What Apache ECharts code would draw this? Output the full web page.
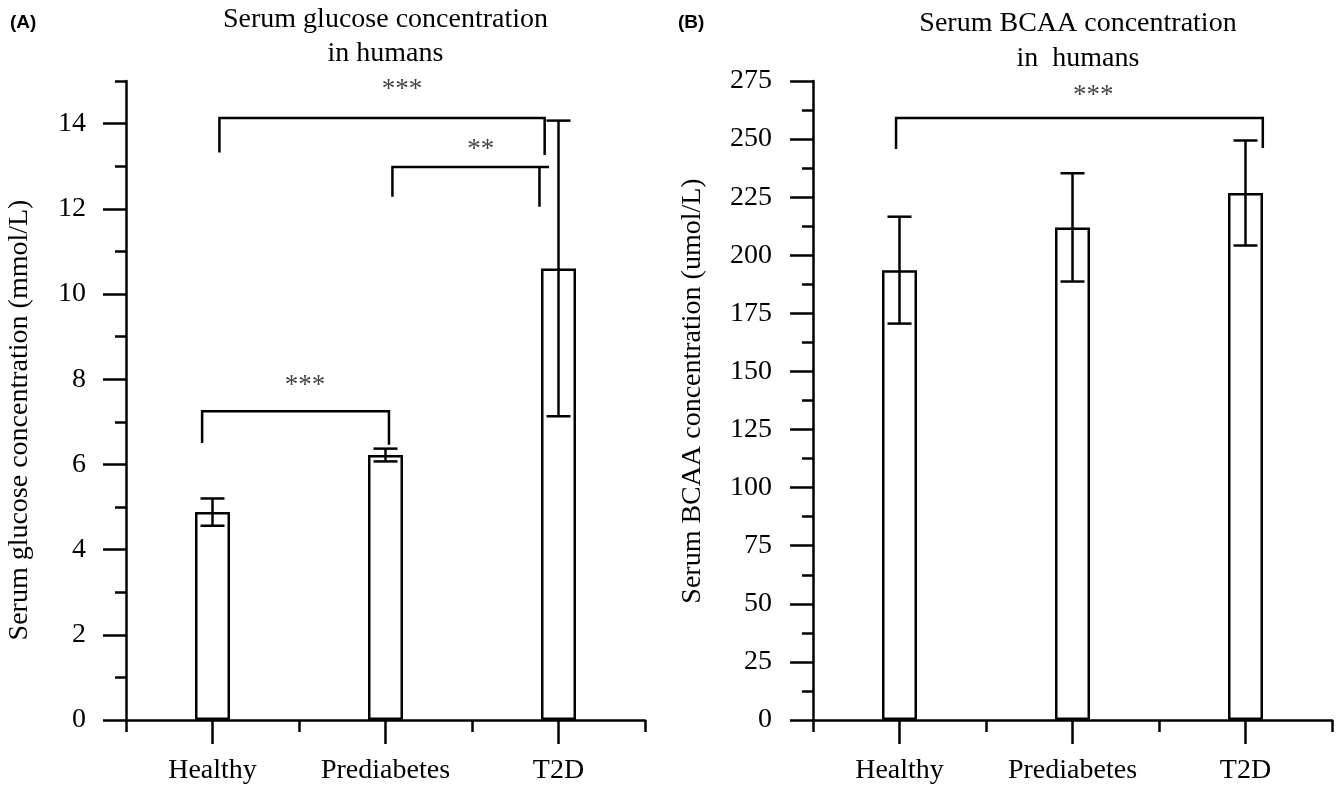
<!DOCTYPE html>
<html>
<head>
<meta charset="utf-8">
<script src="https://cdn.jsdelivr.net/npm/echarts@6/dist/echarts.min.js"></script>
<style>
  html, body { margin: 0; padding: 0; background: #fff; }
  #chart { width: 1343px; height: 790px; }
</style>
</head>
<body>
<div id="chart"></div>
<script>
// groups
const categories = ['Healthy', 'Prediabetes', 'T2D'];

// (A) serum glucose, mmol/L
const glucoseMean = [4.88, 6.22, 10.6];
const glucoseErr = [0.32, 0.15, 3.47];
const glucoseTicks = [0, 2, 4, 6, 8, 10, 12, 14];
const glucoseMinorTicks = [1, 3, 5, 7, 9, 11, 13, 15];

// (B) serum BCAA, umol/L
const bcaaMean = [193.6, 212.0, 226.8];
const bcaaErr = [23.0, 23.3, 22.6];

// significance brackets: [left x, right x, bar y, left leg end, right leg end, line end x]
const glucoseBrackets = [
  [0.04, 1.92, 14.13, 13.32, 13.26, 1.92],
  [1.04, 1.89, 12.98, 12.28, 12.05, 1.945],
  [-0.06, 1.02, 7.25, 6.50, 6.46, 1.02]
];
const glucoseStars = [[1.095, 14.79, '***'], [1.55, 13.39, '**'], [0.535, 7.84, '***']];
const bcaaBrackets = [[-0.02, 2.10, 259.1, 245.7, 246.2, 2.10]];
const bcaaStars = [[1.12, 268.4, '***']];

const serif = '"Liberation Serif", "Times New Roman", serif';
const black = '#000';
const lw = 2.5;

const chart = echarts.init(document.getElementById('chart'));

function errorBarItem(params, api) {
  const i = api.value(0);
  const lo = api.coord([i, api.value(1)]);
  const hi = api.coord([i, api.value(2)]);
  const half = 12;
  const style = { stroke: black, lineWidth: lw };
  return {
    type: 'group',
    children: [
      { type: 'line', shape: { x1: hi[0], y1: hi[1], x2: lo[0], y2: lo[1] }, style: style },
      { type: 'line', shape: { x1: hi[0] - half, y1: hi[1], x2: hi[0] + half, y2: hi[1] }, style: style },
      { type: 'line', shape: { x1: lo[0] - half, y1: lo[1], x2: lo[0] + half, y2: lo[1] }, style: style }
    ]
  };
}

function panelSeries(mean, err, brackets, stars, catAxis, valAxis, yAxis) {
  const out = [];
  out.push({
    type: 'bar',
    xAxisIndex: catAxis,
    yAxisIndex: yAxis,
    data: mean,
    barWidth: 35,
    itemStyle: { color: '#fff', borderColor: black, borderWidth: lw },
    z: 2
  });
  out.push({
    type: 'custom',
    xAxisIndex: catAxis,
    yAxisIndex: yAxis,
    renderItem: errorBarItem,
    encode: { x: 0, y: [1, 2] },
    data: mean.map((m, i) => [i, m - err[i], m + err[i]]),
    z: 3
  });
  brackets.forEach(b => {
    out.push({
      type: 'line',
      xAxisIndex: valAxis,
      yAxisIndex: yAxis,
      symbol: 'none',
      clip: false,
      lineStyle: { color: black, width: lw, join: 'miter' },
      data: [[b[0], b[3]], [b[0], b[2]], [b[5], b[2]], [b[1], b[2]], [b[1], b[4]]],
      z: 3
    });
  });
  out.push({
    type: 'scatter',
    xAxisIndex: valAxis,
    yAxisIndex: yAxis,
    symbolSize: 0,
    data: stars.map(s => ({ value: [s[0], s[1]], label: { formatter: s[2] } })),
    label: {
      show: true,
      position: 'inside',
      color: '#111',
      fontFamily: serif,
      fontSize: 27
    },
    z: 4
  });
  return out;
}

function catAxis(grid) {
  return {
    type: 'category',
    gridIndex: grid,
    position: 'bottom',
    data: categories,
    boundaryGap: true,
    axisLine: { show: true, onZero: false, lineStyle: { color: black, width: lw } },
    axisTick: { show: true, alignWithLabel: true, length: 24, lineStyle: { color: black, width: lw } },
    axisLabel: { color: black, fontFamily: serif, fontSize: 28, margin: 37 },
    splitLine: { show: false }
  };
}

function boundaryAxis(grid) {
  return {
    type: 'value',
    gridIndex: grid,
    position: 'bottom',
    min: -0.5,
    max: 2.5,
    axisLine: { show: false, onZero: false },
    axisTick: { show: true, customValues: [-0.5, 0.5, 1.5, 2.5], length: 12, lineStyle: { color: black, width: lw } },
    axisLabel: { show: false },
    splitLine: { show: false }
  };
}

const option = {
  animation: false,
  backgroundColor: '#fff',
  grid: [
    { left: 126, top: 81, width: 519, height: 639 },
    { left: 813, top: 81, width: 519, height: 639 }
  ],
  xAxis: [catAxis(0), boundaryAxis(0), catAxis(1), boundaryAxis(1)],
  yAxis: [
    {
      type: 'value',
      gridIndex: 0,
      position: 'left',
      min: 0,
      max: 15,
      name: 'Serum glucose concentration (mmol/L)',
      nameLocation: 'middle',
      nameGap: 92,
      nameTextStyle: { color: black, fontFamily: serif, fontSize: 28, padding: [0, 39, 0, 0] },
      axisLine: { show: true, onZero: false, lineStyle: { color: black, width: lw } },
      axisTick: { show: true, customValues: glucoseTicks, length: 23, lineStyle: { color: black, width: lw } },
      axisLabel: { customValues: glucoseTicks, color: black, fontFamily: serif, fontSize: 28, margin: 40 },
      splitLine: { show: false }
    },
    {
      type: 'value',
      gridIndex: 0,
      position: 'left',
      offset: 0,
      min: 0,
      max: 15,
      axisLine: { show: false, onZero: false },
      axisTick: { show: true, customValues: glucoseMinorTicks, length: 11, lineStyle: { color: black, width: lw } },
      axisLabel: { show: false },
      splitLine: { show: false }
    },
    {
      type: 'value',
      gridIndex: 1,
      position: 'left',
      min: 0,
      max: 275,
      interval: 25,
      name: 'Serum BCAA concentration (umol/L)',
      nameLocation: 'middle',
      nameGap: 106,
      nameTextStyle: { color: black, fontFamily: serif, fontSize: 28, padding: [0, 0, 0, 19] },
      axisLine: { show: true, onZero: false, lineStyle: { color: black, width: lw } },
      axisTick: { show: true, length: 23, lineStyle: { color: black, width: lw } },
      minorTick: { show: true, splitNumber: 2, length: 11, lineStyle: { color: black, width: lw } },
      axisLabel: { color: black, fontFamily: serif, fontSize: 28, margin: 41 },
      splitLine: { show: false },
      minorSplitLine: { show: false }
    }
  ],
  graphic: [
    {
      type: 'text', x: 10, y: 22.5,
      style: { text: '(A)', font: 'bold 19px "Liberation Sans", Arial, sans-serif', fill: black, verticalAlign: 'middle' }
    },
    {
      type: 'text', x: 678, y: 23,
      style: { text: '(B)', font: 'bold 19px "Liberation Sans", Arial, sans-serif', fill: black, verticalAlign: 'middle' }
    },
    {
      type: 'text', x: 385.5, y: 2.5,
      style: {
        text: 'Serum glucose concentration\nin humans',
        font: '28px "Liberation Serif", "Times New Roman", serif',
        fill: black, align: 'center', verticalAlign: 'top', lineHeight: 34
      }
    },
    {
      type: 'text', x: 1078, y: 6,
      style: {
        text: 'Serum BCAA concentration\nin  humans',
        font: '28px "Liberation Serif", "Times New Roman", serif',
        fill: black, align: 'center', verticalAlign: 'top', lineHeight: 35
      }
    }
  ],
  series: [].concat(
    panelSeries(glucoseMean, glucoseErr, glucoseBrackets, glucoseStars, 0, 1, 0),
    panelSeries(bcaaMean, bcaaErr, bcaaBrackets, bcaaStars, 2, 3, 2)
  )
};

chart.setOption(option);
</script>
</body>
</html>
